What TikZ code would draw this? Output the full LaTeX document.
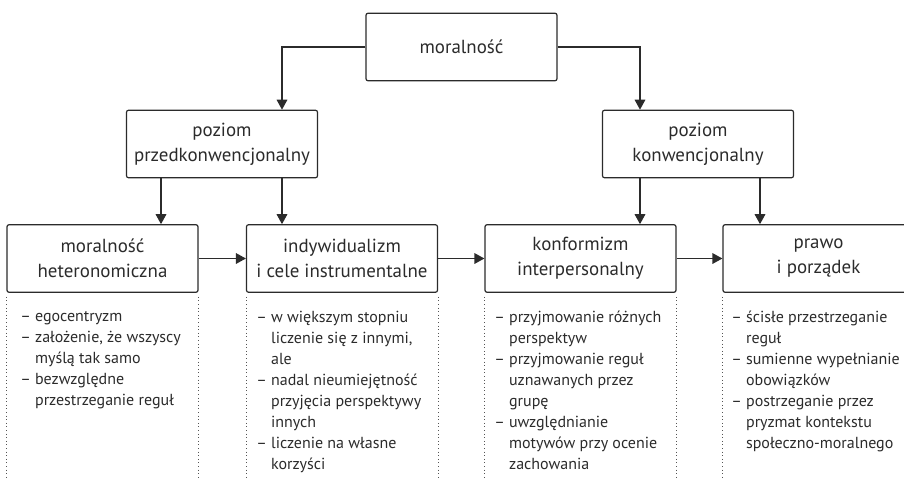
\documentclass[tikz,border=0pt]{standalone}
\usepackage{fontspec}
\setmainfont{PT Sans}
\usetikzlibrary{arrows.meta}
\definecolor{ink}{HTML}{2B2B2B}
\definecolor{dots}{HTML}{555555}
\tikzset{
  box/.style={draw=ink, line width=0.9pt, rounded corners=1.5pt,
    minimum width=143.25pt, minimum height=50.6pt, inner sep=0pt,
    align=center, text=ink, font=\fontsize{14.2}{18.75}\selectfont},
  arr/.style={draw=ink, line width=0.9pt,
    -{Triangle[width=8pt,length=7.5pt]}},
  dotline/.style={draw=dots, line width=0.6pt,
    dash pattern=on 0.6pt off 2.1pt},
  items/.style={anchor=north west, inner sep=0pt, align=left, text=ink,
    font=\fontsize{12}{15.75}\selectfont},
}
\newcommand{\hang}{\phantom{– }}
\begin{document}
\begin{tikzpicture}[x=0.75pt, y=-0.75pt]
  \useasboundingbox (0,0) rectangle (904,482);

  % boxes
  \node[box] (top) at (461.5,47) {moralność};
  \node[box] (pk)  at (222,144)   {poziom\\przedkonwencjonalny};
  \node[box] (kw)  at (698,144)   {poziom\\konwencjonalny};
  \node[box] (b1)  at (102.5,258.5) {moralność\\heteronomiczna};
  \node[box] (b2)  at (342,258.5)   {indywidualizm\\i cele instrumentalne};
  \node[box] (b3)  at (580.5,258.5) {konformizm\\interpersonalny};
  \node[box] (b4)  at (818.5,258.5) {prawo\\i porządek};

  % columns of the branch connectors
  \coordinate (c0) at (161,0);
  \coordinate (c1) at (282,0);
  \coordinate (c2) at (640,0);
  \coordinate (c3) at (760,0);
  \coordinate (floor) at (0,480);

  % connectors
  \draw[arr] (top.west) -| (c1 |- pk.north);
  \draw[arr] (top.east) -| (c2 |- kw.north);
  \draw[arr] (c0 |- pk.south) -- (c0 |- b1.north);
  \draw[arr] (c1 |- pk.south) -- (c1 |- b2.north);
  \draw[arr] (c2 |- kw.south) -- (c2 |- b3.north);
  \draw[arr] (c3 |- kw.south) -- (c3 |- b4.north);
  \draw[arr] (b1.east) -- (b2.west);
  \draw[arr] (b2.east) -- (b3.west);
  \draw[arr] (b3.east) -- (b4.west);

  % dotted column guides
  \foreach \b in {b1,b2,b3} {
    \draw[dotline] ([yshift=-3pt]\b.south west) -- (\b.south west |- floor);
    \draw[dotline] ([yshift=-3pt]\b.south east) -- (\b.south east |- floor);
  }
  \draw[dotline] ([yshift=-3pt]b4.south west) -- (b4.south west |- floor);

  % item lists
  \node[items] (l1) at (20,311) {– egocentryzm\\– założenie, że wszyscy\\\hang myślą tak samo\\– bezwzględne\\\hang przestrzeganie reguł};
  \node[items] (l2) at (256,311) {– w większym stopniu\\\hang liczenie się z innymi,\\\hang ale\\– nadal nieumiejętność\\\hang przyjęcia perspektywy\\\hang innych\\– liczenie na własne\\\hang korzyści};
  \node[items] (l3) at (494,311) {– przyjmowanie różnych\\\hang perspektyw\\– przyjmowanie reguł\\\hang uznawanych przez\\\hang grupę\\– uwzględnianie\\\hang motywów przy ocenie\\\hang zachowania};
  \node[items] (l4) at (731,311) {– ścisłe przestrzeganie\\\hang reguł\\– sumienne wypełnianie\\\hang obowiązków\\– postrzeganie przez\\\hang pryzmat kontekstu\\\hang społeczno-moralnego};
\end{tikzpicture}
\end{document}
